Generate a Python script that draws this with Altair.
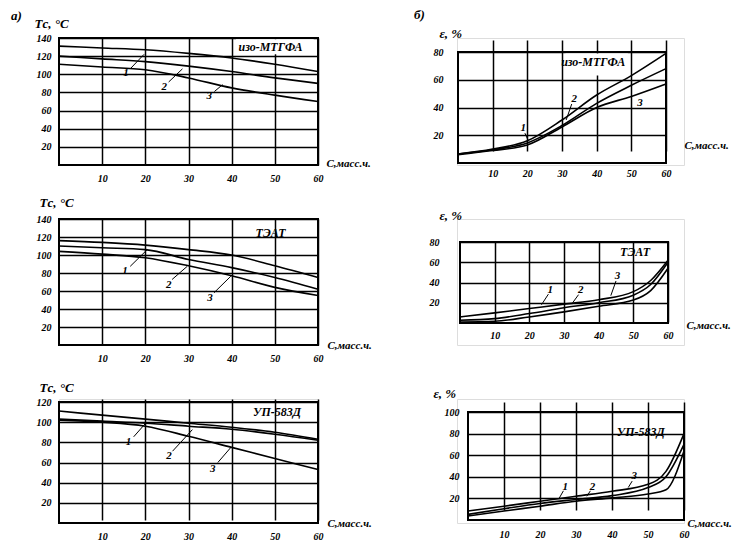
import altair as alt
import pandas as pd

FONT = "Liberation Serif"

# ---------------- data ----------------
C7 = [0, 10, 20, 30, 40, 50, 60]
C8 = [0, 10, 20, 30, 40, 50, 55, 60]
X_TICKS = [10, 20, 30, 40, 50, 60]

# a) glass transition temperature, °C
a1_c1 = [131, 129, 127, 123, 118, 111, 103]
a1_c2 = [120, 117, 114, 109, 103, 96, 90]
a1_c3 = [111, 108, 105, 96, 85, 77, 70]

a2_c1 = [116, 114, 111, 106, 100, 88, 75]
a2_c2 = [110, 108, 106, 95, 86, 75, 62]
a2_c3 = [104, 101, 97, 88, 77, 64, 55]

a3_c1 = [111, 107, 103, 99, 95, 90, 83]
a3_c2 = [103, 101, 99, 96, 93, 88, 82]
a3_c3 = [102, 100, 96, 86, 75, 64, 53]

# b) elongation, %
b1_c1 = [6.5, 10, 16, 31, 49, 63, 79]
b1_c2 = [6.5, 9.5, 14.5, 27, 43, 56, 68]
b1_c3 = [6, 9, 13, 26, 40, 48, 57]

b2_c1 = [6, 10, 14.3, 18.6, 23, 31, 42, 62]
b2_c2 = [2.7, 4.3, 9.3, 15, 20, 27.5, 38, 60]
b2_c3 = [1, 1.7, 6, 11, 16.6, 22.6, 32, 54]

b3_c1 = [8.3, 12.8, 17.4, 22, 26.6, 33, 45, 80]
b3_c2 = [5.2, 10.4, 15.3, 19, 22.6, 30, 40, 70]
b3_c3 = [3.7, 8.3, 12.8, 17.4, 20.5, 24, 28, 64]

NAMES = ["изо-МТГФА", "ТЭАТ", "УП-583Д"]

# curve-number annotations: x, y, label ; leaders: x, y, x2, y2
a1_num = ([15.5, 24.4, 34.8], [101, 86, 76.5], ["1", "2", "3"])
a1_lead = ([16.5, 25.4, 36.0], [106, 91.5, 81], [19.7, 28.6, 37.9], [122, 106, 88.6])
a2_num = ([15.3, 25.4, 35.0], [82, 67, 52.5], ["1", "2", "3"])
a2_lead = ([16.5, 26.2, 35.9], [87.4, 72.8, 58], [20.4, 29.7, 39.8], [105.8, 87.4, 76.4])
a3_num = ([16.1, 25.5, 35.6], [80.5, 66, 54], ["1", "2", "3"])
a3_lead = ([17.3, 26.3, 36.8], [85.5, 71.2, 60], [20.0, 30.9, 39.9], [98.6, 92.6, 75.4])
b1_num = ([18.8, 33.5, 52.5], [25, 46, 43], ["1", "2", "3"])
b1_lead = ([19.3, 32.8], [21.5, 42.5], [20.3, 31.2], [16, 31])
b2_num = ([26.0, 34.8, 45.4], [33, 32.5, 46], ["1", "2", "3"])
b2_lead = ([25.5, 34.2, 45.0], [28.5, 28, 41.5], [23.5, 32.5, 43.5], [18, 20, 27])
b3_num = ([27.0, 34.6, 46.2], [31, 31, 40.4], ["1", "2", "3"])
b3_lead = ([26.5, 34.0, 45.6], [27, 27, 36], [25.3, 33.0, 44.5], [20, 22, 30])

# white boxes behind the material names: x, x2, y, y2
a1_box = ([41], [59], [122], [138.5])
b1_box = ([31], [49], [63], [79])


def panel(xs, curves, ymax, yvals, cw, ch, xr, yr, name, name_xy, num, lead,
          ytitle, ytx, yty, ylpad, xtx, xty, xlpad, tag=None, tag_xy=None, box=None):
    rows = []
    for k, vals in enumerate(curves):
        for x, v in zip(xs, vals):
            rows.append({"C": x, "v": v, "s": str(k + 1)})
    df = pd.DataFrame(rows)
    xsc = alt.Scale(domain=[0, 60], range=xr, nice=False, zero=False)
    ysc = alt.Scale(domain=[0, ymax], range=yr, nice=False, zero=False)
    common = dict(grid=True, gridColor="black", gridWidth=1.5, gridOpacity=1,
                  domain=False, ticks=False, tickSize=0, tickCount=12,
                  labelFont=FONT, labelFontSize=10, labelFontWeight="bold",
                  labelFontStyle="italic", labelColor="black",
                  labelFlush=False, labelOverlap=False,
                  titleFont=FONT, titleFontWeight="bold", titleFontStyle="italic",
                  titleColor="black", titleAngle=0, titleAlign="left",
                  titleBaseline="middle")
    xaxis = alt.Axis(values=X_TICKS, title="С,масс.ч.", labelPadding=xlpad,
                     titleX=xtx, titleY=xty, titleFontSize=11, **common)
    yaxis = alt.Axis(values=yvals, title=ytitle, labelPadding=ylpad,
                     titleX=ytx, titleY=yty, titleFontSize=13, **common)
    lines = alt.Chart(df).mark_line(color="black", strokeWidth=1.6,
                                    interpolate="monotone").encode(
        x=alt.X("C:Q", scale=xsc, axis=xaxis),
        y=alt.Y("v:Q", scale=ysc, axis=yaxis),
        detail="s:N")
    layers = [lines]
    if box is not None:
        wdf = pd.DataFrame({"C": box[0], "C2": box[1], "v": box[2], "v2": box[3]})
        layers.append(alt.Chart(wdf).mark_rect(color="white").encode(
            x="C:Q", y="v:Q", x2="C2:Q", y2="v2:Q"))
    bdf = pd.DataFrame({"C": [0], "v": [0], "C2": [60], "v2": [ymax]})
    border = alt.Chart(bdf).mark_rect(filled=False, stroke="black", strokeWidth=2).encode(
        x="C:Q", y="v:Q", x2="C2:Q", y2="v2:Q")
    ldf = pd.DataFrame({"C": lead[0], "v": lead[1], "C2": lead[2], "v2": lead[3]})
    leaders = alt.Chart(ldf).mark_rule(color="black", strokeWidth=1).encode(
        x="C:Q", y="v:Q", x2="C2:Q", y2="v2:Q")
    ndf = pd.DataFrame({"C": num[0], "v": num[1], "t": num[2]})
    nums = alt.Chart(ndf).mark_text(font=FONT, fontSize=11, fontWeight="bold",
                                    fontStyle="italic", color="black").encode(
        x="C:Q", y="v:Q", text="t:N")
    mdf = pd.DataFrame({"C": [name_xy[0]], "v": [name_xy[1]], "t": [name]})
    names = alt.Chart(mdf).mark_text(font=FONT, fontSize=12, fontWeight="bold",
                                     fontStyle="italic", color="black").encode(
        x="C:Q", y="v:Q", text="t:N")
    layers += [border, leaders, nums, names]
    if tag is not None:
        tdf = pd.DataFrame({"t": [tag]})
        layers.append(alt.Chart(tdf).mark_text(font=FONT, fontSize=13, fontWeight="bold",
                                               fontStyle="italic", color="black",
                                               align="left").encode(
            x=alt.value(tag_xy[0]), y=alt.value(tag_xy[1]), text="t:N"))
    return alt.layer(*layers).properties(width=cw, height=ch)


TT = "Tс, °C"
ET = "ε, %"
Y140 = [20, 40, 60, 80, 100, 120, 140]

# left column cells: x 58..317 ; rows: 38..165, 219..345, 399..523
a1 = panel(C7, [a1_c1, a1_c2, a1_c3], 140, Y140, 259, 127, [0, 259], [127, 0],
           NAMES[0], (49, 130.5), a1_num, a1_lead, TT, -25, -15, 8, 267, -2, 8,
           "а)", (-48, -22), a1_box)
a2 = panel(C7, [a2_c1, a2_c2, a2_c3], 140, Y140, 259, 126, [0, 259], [126, 0],
           NAMES[1], (49, 124), a2_num, a2_lead, TT, -20, -17, 8, 268, 0, 8)
a3 = panel(C7, [a3_c1, a3_c2, a3_c3], 120, [20, 40, 60, 80, 100, 120], 259, 124,
           [0, 259], [124, 3],
           NAMES[2], (50.5, 110), a3_num, a3_lead, TT, -20, -12, 8, 268, 0, 8)

# right column cells start at x 456
b1 = panel(C7, [b1_c1, b1_c2, b1_c3], 80, [20, 40, 60, 80], 227, 127, [1, 209], [125, 14],
           NAMES[0], (39, 73), b1_num, b1_lead, ET, -18, -5, 14, 227, -20, 3,
           "б)", (-43, -23), b1_box)
b2 = panel(C8, [b2_c1, b2_c2, b2_c3], 80, [20, 40, 60, 80], 227, 126, [3, 211], [104, 23],
           NAMES[1], (50.5, 70), b2_num, b2_lead, ET, -18, -4, 18, 229, -20, -15)
b3 = panel(C8, [b3_c1, b3_c2, b3_c3], 100, [20, 40, 60, 80, 100], 227, 124, [11, 227],
           [121, 13],
           NAMES[2], (48, 81.5), b3_num, b3_lead, ET, -24, -6, -2, 230, 0, 6)

chart = (alt.concat(a1, b1, a2, b2, a3, b3, columns=2,
                    spacing={"row": 54, "column": 139},
                    bounds="flush", align="each")
         .properties(padding={"left": 2, "top": 0, "right": 0, "bottom": 0})
         .configure_view(strokeOpacity=0)
         .configure(background="white"))

chart.save("out.html", embed_options={"renderer": "svg", "actions": False})
